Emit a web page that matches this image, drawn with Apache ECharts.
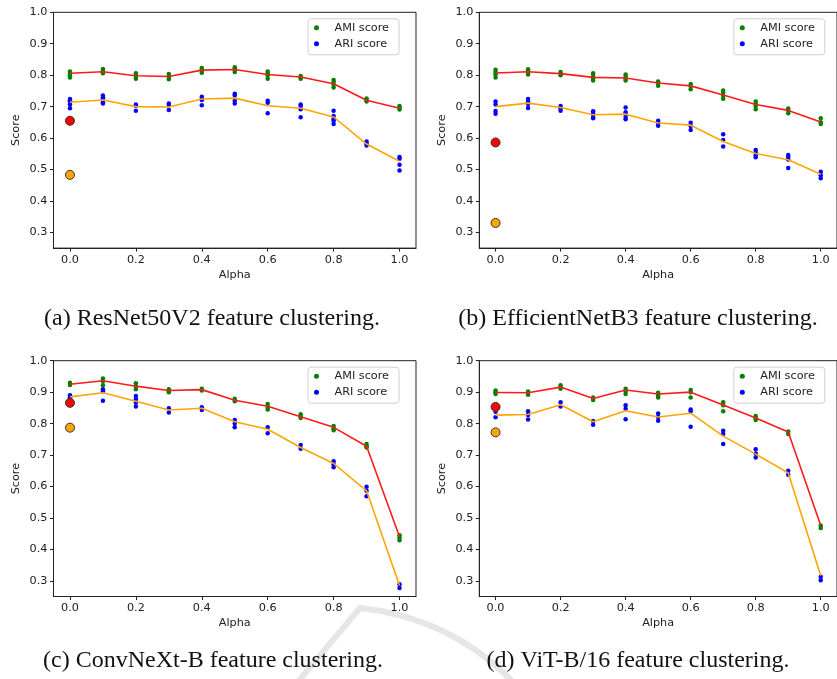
<!DOCTYPE html>
<html>
<head>
<meta charset="utf-8">
<script src="https://cdn.jsdelivr.net/npm/echarts@6/dist/echarts.min.js"></script>
<style>
  html, body { margin: 0; padding: 0; background: #fff; }
  #chart { width: 837px; height: 679px; }
</style>
</head>
<body>
<div id="chart"></div>
<script>
var alphas = [0.0, 0.1, 0.2, 0.3, 0.4, 0.5, 0.6, 0.7, 0.8, 0.9, 1.0];
var xTicks = [0.0, 0.2, 0.4, 0.6, 0.8, 1.0];
var yTicks = [0.3, 0.4, 0.5, 0.6, 0.7, 0.8, 0.9, 1.0];

// (a) ResNet50V2
var resnetAmiRuns = [
  [0.812, 0.806, 0.800, 0.793], [0.820, 0.814, 0.810, 0.806], [0.806, 0.799, 0.797, 0.789],
  [0.804, 0.797, 0.794, 0.787], [0.823, 0.818, 0.814, 0.808], [0.825, 0.820, 0.817, 0.810],
  [0.812, 0.806, 0.800, 0.789], [0.797, 0.793, 0.789], [0.785, 0.778, 0.770, 0.761],
  [0.726, 0.720, 0.716], [0.702, 0.697, 0.691]
];
var resnetAmiMean = [0.806, 0.811, 0.798, 0.796, 0.816, 0.818, 0.802, 0.794, 0.773, 0.720, 0.695];
var resnetAriRuns = [
  [0.724, 0.720, 0.716, 0.707, 0.695], [0.735, 0.730, 0.726, 0.714, 0.710], [0.707, 0.703, 0.687],
  [0.710, 0.705, 0.689], [0.731, 0.724, 0.721, 0.704], [0.741, 0.735, 0.719, 0.710],
  [0.719, 0.712, 0.679], [0.707, 0.702, 0.692, 0.666], [0.687, 0.670, 0.660, 0.655, 0.645],
  [0.589, 0.582, 0.576], [0.540, 0.534, 0.515, 0.497]
];
var resnetAriMean = [0.714, 0.721, 0.700, 0.699, 0.724, 0.727, 0.703, 0.695, 0.667, 0.581, 0.526];
var resnetBase = [0.655, 0.483];

// (b) EfficientNetB3
var effAmiRuns = [
  [0.817, 0.810, 0.803, 0.793], [0.819, 0.813, 0.808, 0.802], [0.810, 0.805, 0.800],
  [0.806, 0.797, 0.790, 0.783], [0.802, 0.795, 0.788, 0.783], [0.780, 0.775, 0.766],
  [0.772, 0.765, 0.755], [0.751, 0.745, 0.735, 0.725], [0.716, 0.708, 0.702, 0.692],
  [0.694, 0.688, 0.679], [0.663, 0.650, 0.645]
];
var effAmiMean = [0.807, 0.811, 0.805, 0.793, 0.791, 0.775, 0.766, 0.737, 0.707, 0.688, 0.651];
var effAriRuns = [
  [0.716, 0.707, 0.686, 0.677], [0.724, 0.716, 0.708, 0.696], [0.702, 0.695, 0.687],
  [0.685, 0.678, 0.668, 0.663], [0.697, 0.682, 0.668, 0.660], [0.655, 0.648, 0.639],
  [0.649, 0.638, 0.626], [0.612, 0.594, 0.573], [0.562, 0.553, 0.545, 0.539],
  [0.546, 0.540, 0.532, 0.505], [0.493, 0.482, 0.472]
];
var effAriMean = [0.700, 0.711, 0.697, 0.674, 0.676, 0.648, 0.641, 0.589, 0.551, 0.531, 0.485];
var effBase = [0.586, 0.330];

// (c) ConvNeXt-B
var convAmiRuns = [
  [0.930, 0.926, 0.923], [0.943, 0.935, 0.922], [0.928, 0.918, 0.909],
  [0.909, 0.903, 0.900], [0.911, 0.905], [0.879, 0.871],
  [0.862, 0.853, 0.845], [0.830, 0.822, 0.818], [0.792, 0.785, 0.779],
  [0.735, 0.728, 0.724], [0.445, 0.437, 0.429]
];
var convAmiMean = [0.925, 0.936, 0.919, 0.905, 0.908, 0.874, 0.855, 0.822, 0.788, 0.728, 0.440];
var convAriRuns = [
  [0.890, 0.884, 0.879], [0.909, 0.903, 0.873], [0.888, 0.877, 0.866, 0.854],
  [0.849, 0.835], [0.852, 0.843], [0.811, 0.800, 0.788],
  [0.788, 0.769], [0.732, 0.720], [0.680, 0.670, 0.661],
  [0.599, 0.586, 0.569], [0.289, 0.277]
];
var convAriMean = [0.885, 0.898, 0.871, 0.843, 0.849, 0.806, 0.782, 0.724, 0.673, 0.586, 0.285];
var convBase = [0.866, 0.787];

// (d) ViT-B/16
var vitAmiRuns = [
  [0.905, 0.900, 0.894], [0.902, 0.897, 0.892], [0.922, 0.916, 0.911],
  [0.883, 0.875], [0.911, 0.903, 0.894], [0.898, 0.890, 0.883],
  [0.907, 0.900, 0.883], [0.868, 0.858, 0.839], [0.824, 0.817, 0.811],
  [0.775, 0.767], [0.476, 0.468]
];
var vitAmiMean = [0.899, 0.898, 0.916, 0.880, 0.907, 0.894, 0.900, 0.859, 0.818, 0.773, 0.476];
var vitAriRuns = [
  [0.854, 0.838, 0.820], [0.839, 0.827, 0.813], [0.868, 0.854],
  [0.808, 0.796], [0.858, 0.847, 0.814], [0.832, 0.821, 0.809],
  [0.845, 0.839, 0.790], [0.777, 0.768, 0.735], [0.718, 0.705, 0.692],
  [0.650, 0.637], [0.313, 0.302]
];
var vitAriMean = [0.827, 0.829, 0.860, 0.806, 0.841, 0.821, 0.833, 0.760, 0.703, 0.643, 0.316];
var vitBase = [0.853, 0.772];

var captions = [
  "(a) ResNet50V2 feature clustering.",
  "(b) EfficientNetB3 feature clustering.",
  "(c) ConvNeXt-B feature clustering.",
  "(d) ViT-B/16 feature clustering."
];

var panels = [
  { ami: resnetAmiRuns, amiMean: resnetAmiMean, ari: resnetAriRuns, ariMean: resnetAriMean, base: resnetBase },
  { ami: effAmiRuns, amiMean: effAmiMean, ari: effAriRuns, ariMean: effAriMean, base: effBase },
  { ami: convAmiRuns, amiMean: convAmiMean, ari: convAriRuns, ariMean: convAriMean, base: convBase },
  { ami: vitAmiRuns, amiMean: vitAmiMean, ari: vitAriRuns, ariMean: vitAriMean, base: vitBase }
];

// layout of the four axes boxes (pixels)
var boxes = [
  { left: 53.5, top: 12.3, cap: [212, 319] },
  { left: 479.3, top: 12.3, cap: [638, 319] },
  { left: 53.5, top: 360.7, cap: [213, 661] },
  { left: 479.3, top: 360.7, cap: [638, 661] }
];
var boxW = 362.5, boxH = 235.8;

var ink = '#222';
var tickFont = { fontFamily: 'DejaVu Sans', fontSize: 11.25, color: ink };

function runsToPoints(runs) {
  var pts = [];
  for (var i = 0; i < runs.length; i++) {
    for (var j = 0; j < runs[i].length; j++) {
      pts.push([alphas[i], runs[i][j]]);
    }
  }
  return pts;
}
function meanToPoints(m) {
  return m.map(function (v, i) { return [alphas[i], v]; });
}

var grids = [], xAxes = [], yAxes = [], series = [], legends = [], graphics = [];

// faint page watermark stroke behind the bottom captions
graphics.push({
  type: 'group', z: -10, silent: true,
  children: [
    { type: 'line', shape: { x1: 360, y1: 608, x2: 296, y2: 684 },
      style: { stroke: '#e6e6e6', lineWidth: 6, lineCap: 'round' } },
    { type: 'bezierCurve', shape: { x1: 360, y1: 608, cpx1: 452, cpy1: 618, x2: 515, y2: 684 },
      style: { stroke: '#e6e6e6', lineWidth: 6, fill: null, lineCap: 'round' } }
  ]
});

for (var p = 0; p < 4; p++) {
  var b = boxes[p], d = panels[p];
  grids.push({
    left: b.left, top: b.top, width: boxW, height: boxH,
    show: true, borderColor: ink, borderWidth: 1, backgroundColor: 'transparent'
  });
  xAxes.push({
    type: 'value', gridIndex: p, min: -0.05, max: 1.05,
    name: 'Alpha', nameLocation: 'middle', nameGap: 21,
    nameTextStyle: tickFont,
    axisLine: { show: true, onZero: false, lineStyle: { color: ink, width: 1 } },
    axisTick: { show: true, length: 3.5, customValues: xTicks, lineStyle: { color: ink } },
    axisLabel: Object.assign({ customValues: xTicks, margin: 6, formatter: function (v) { return v.toFixed(1); } }, tickFont),
    splitLine: { show: false }
  });
  yAxes.push({
    type: 'value', gridIndex: p, min: 0.25, max: 1.0,
    name: 'Score', nameLocation: 'middle', nameGap: 32,
    nameTextStyle: tickFont,
    axisLine: { show: true, onZero: false, lineStyle: { color: ink, width: 1 } },
    axisTick: { show: true, length: 3.5, customValues: yTicks, lineStyle: { color: ink } },
    axisLabel: Object.assign({ customValues: yTicks, margin: 6, formatter: function (v) { return v.toFixed(1); } }, tickFont),
    splitLine: { show: false }
  });

  series.push({
    name: 'AMI score', type: 'scatter', xAxisIndex: p, yAxisIndex: p,
    data: runsToPoints(d.ami), symbolSize: 4.5, itemStyle: { color: '#008000', opacity: 1 }, z: 2
  });
  series.push({
    name: 'ARI score', type: 'scatter', xAxisIndex: p, yAxisIndex: p,
    data: runsToPoints(d.ari), symbolSize: 4.5, itemStyle: { color: '#0000ff', opacity: 1 }, z: 2
  });
  series.push({
    name: 'AMI mean', type: 'line', xAxisIndex: p, yAxisIndex: p,
    data: meanToPoints(d.amiMean), symbol: 'none', lineStyle: { color: '#ff1a1a', width: 1.6 }, z: 3
  });
  series.push({
    name: 'ARI mean', type: 'line', xAxisIndex: p, yAxisIndex: p,
    data: meanToPoints(d.ariMean), symbol: 'none', lineStyle: { color: '#ffa500', width: 1.6 }, z: 3
  });
  series.push({
    name: 'AMI baseline', type: 'scatter', xAxisIndex: p, yAxisIndex: p,
    data: [[alphas[0], d.base[0]]], symbolSize: 9,
    itemStyle: { color: '#ff0000', borderColor: '#333', borderWidth: 1, opacity: 1 }, z: 4
  });
  series.push({
    name: 'ARI baseline', type: 'scatter', xAxisIndex: p, yAxisIndex: p,
    data: [[alphas[0], d.base[1]]], symbolSize: 9,
    itemStyle: { color: '#ffa500', borderColor: '#333', borderWidth: 1, opacity: 1 }, z: 4
  });

  legends.push({
    data: ['AMI score', 'ARI score'], orient: 'vertical',
    left: b.left + 254.5, top: b.top + 6.5,
    icon: 'circle', itemWidth: 26, itemHeight: 5, itemGap: 4,
    padding: [3, 10, 5, 6],
    backgroundColor: 'rgba(255,255,255,0.8)', borderColor: '#d0d0d0', borderWidth: 1, borderRadius: 3,
    textStyle: { fontFamily: 'DejaVu Sans', fontSize: 11.25, color: ink, lineHeight: 12 },
    selectedMode: false
  });

  graphics.push({
    type: 'text', x: b.cap[0], y: b.cap[1],
    style: {
      text: captions[p], align: 'center', verticalAlign: 'middle',
      font: '24px "Liberation Serif"', fill: '#111'
    }
  });
}

var chart = echarts.init(document.getElementById('chart'), null, { renderer: 'canvas' });
chart.setOption({
  animation: false,
  backgroundColor: '#fff',
  grid: grids,
  xAxis: xAxes,
  yAxis: yAxes,
  legend: legends,
  series: series,
  graphic: graphics
});
</script>
</body>
</html>
